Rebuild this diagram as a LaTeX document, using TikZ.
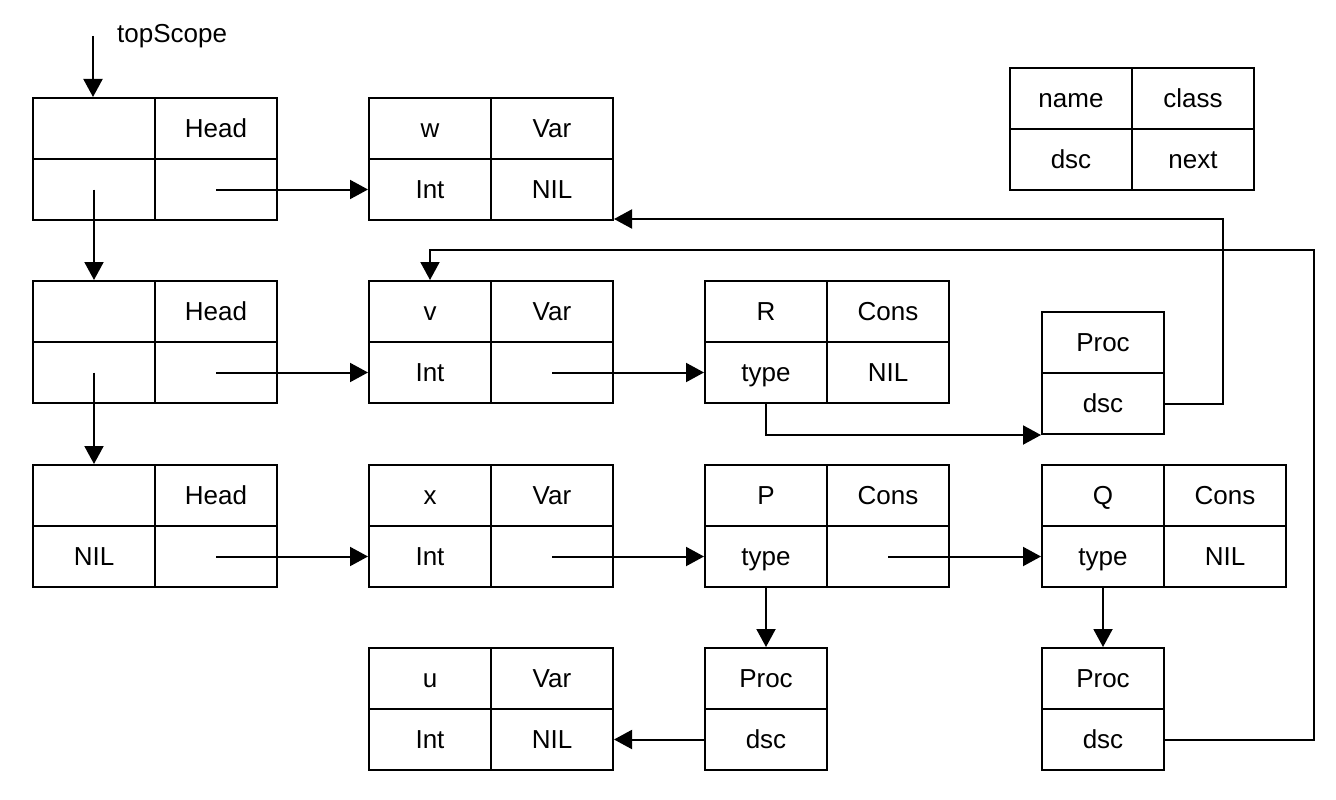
\documentclass[tikz,border=0pt]{standalone}
\usepackage{fontspec}
\setmainfont{Liberation Sans}
\usetikzlibrary{arrows.meta}
\tikzset{
  cell/.style={draw, line width=2pt, rectangle, minimum width=122pt, minimum height=61pt, inner sep=0pt, text height=18.6pt, text depth=0pt, anchor=north west, font=\fontsize{26}{30}\selectfont},
  arr/.style={line width=2pt, -{Triangle[length=18pt,width=19pt]}},
}
% record: prefix, x, y, tl, tr, bl, br
\newcommand{\rec}[7]{%
  \node[cell] (#1a) at (#2,#3) {#4};
  \node[cell] (#1b) at (#2+122,#3) {#5};
  \node[cell] (#1c) at (#2,#3+61) {#6};
  \node[cell] (#1d) at (#2+122,#3+61) {#7};
}
\newcommand{\prc}[3]{%
  \node[cell] (#1a) at (#2,#3) {Proc};
  \node[cell] (#1b) at (#2,#3+61) {dsc};
}
\begin{document}
\begin{tikzpicture}[x=1pt,y=-1pt]
\useasboundingbox (0,0) rectangle (1336,800);
\rec{h1}{32}{97}{}{Head}{}{}
\rec{w}{368}{97}{w}{Var}{Int}{NIL}
\rec{lg}{1009}{67}{name}{class}{dsc}{next}
\rec{h2}{32}{280}{}{Head}{}{}
\rec{v}{368}{280}{v}{Var}{Int}{}
\rec{r}{704}{280}{R}{Cons}{type}{NIL}
\prc{pa}{1041}{311}
\rec{h3}{32}{464}{}{Head}{NIL}{}
\rec{x}{368}{464}{x}{Var}{Int}{}
\rec{p}{704}{464}{P}{Cons}{type}{}
\rec{q}{1041}{464}{Q}{Cons}{type}{NIL}
\rec{u}{368}{647}{u}{Var}{Int}{NIL}
\prc{pp}{704}{647}
\prc{pq}{1041}{647}
% topScope
\coordinate (ts) at (93,36);
\node[anchor=base west, inner sep=0pt, font=\fontsize{26}{30}\selectfont] (tslabel) at (117,43) {topScope};
\draw[arr] (ts) -- (ts |- h1a.north);
% vertical chain
\draw[arr] (h1c.center) -- (h2a.north);
\draw[arr] (h2c.center) -- (h3a.north);
% horizontal
\draw[arr] (h1d.center) -- (wc.west);
\draw[arr] (h2d.center) -- (vc.west);
\draw[arr] (h3d.center) -- (xc.west);
\draw[arr] (vd.center) -- (rc.west);
\draw[arr] (xd.center) -- (pc.west);
\draw[arr] (pd.center) -- (qc.west);
% type links
\draw[arr] (rc.south) |- (pab.south west);
\draw[arr] (pc.south) -- (ppa.north);
\draw[arr] (qc.south) -- (pqa.north);
\draw[arr] (ppb.west) -- (ud.east);
% long returns
\coordinate (c1) at (1223,219);
\draw[arr] (pab.east) -| (c1) -- (wd.south east |- c1);
\coordinate (c2) at (1314,250);
\draw[arr] (pqb.east) -| (c2) -| (va.north);
\end{tikzpicture}
\end{document}
